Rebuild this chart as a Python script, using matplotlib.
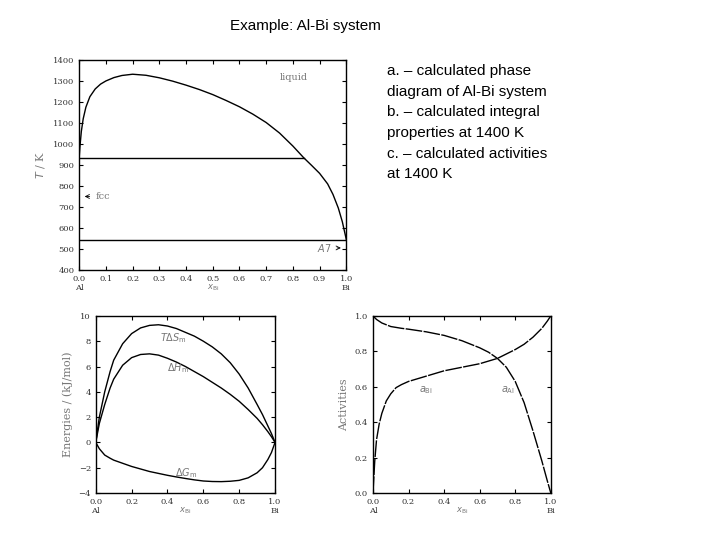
import numpy as np
import matplotlib
matplotlib.use('Agg')
import matplotlib.pyplot as plt

# liquidus
x_liq = [0.0, 0.003, 0.008, 0.015, 0.025, 0.04, 0.06, 0.08, 0.1, 0.13, 0.16, 0.2, 0.25, 0.3, 0.35, 0.4, 0.45,
         0.5, 0.55, 0.6, 0.65, 0.7, 0.75, 0.8, 0.84, 0.87, 0.9, 0.93, 0.95, 0.97, 0.985, 1.0]
T_liq = [935, 990, 1060, 1120, 1175, 1225, 1262, 1285, 1300, 1316, 1326, 1332, 1327, 1315, 1299, 1280, 1259,
         1235, 1207, 1177, 1142, 1102, 1052, 990, 935, 898, 860, 810, 760, 695, 630, 545]
T_eut = 935
T_low = 545

# integral properties at 1400 K
x_e = [0.0, 0.02, 0.05, 0.08, 0.1, 0.15, 0.2, 0.25, 0.3, 0.35, 0.4, 0.45, 0.5, 0.55, 0.6, 0.65, 0.7, 0.75,
       0.8, 0.85, 0.9, 0.93, 0.96, 0.98, 1.0]
TdS = [0.0, 2.0, 4.0, 5.6, 6.5, 7.8, 8.6, 9.05, 9.25, 9.3, 9.2, 9.0, 8.7, 8.4, 8.0, 7.55, 7.0, 6.3,
       5.4, 4.3, 3.0, 2.2, 1.3, 0.7, 0.0]
dH = [0.0, 1.5, 3.0, 4.3, 5.0, 6.1, 6.7, 6.95, 7.0, 6.9, 6.65, 6.35, 6.0, 5.6, 5.2, 4.75, 4.3, 3.8,
      3.25, 2.6, 1.9, 1.4, 0.85, 0.45, 0.0]
dG = [0.0, -0.5, -1.0, -1.25, -1.4, -1.65, -1.9, -2.1, -2.3, -2.45, -2.6, -2.73, -2.85, -2.96, -3.05, -3.09,
      -3.1, -3.07, -3.0, -2.8, -2.4, -2.0, -1.35, -0.8, 0.0]

# activities
x_a = [0.0, 0.01, 0.02, 0.035, 0.05, 0.075, 0.1, 0.13, 0.16, 0.2, 0.3, 0.4, 0.5, 0.6, 0.65, 0.7, 0.75,
       0.8, 0.85, 0.9, 0.95, 0.98, 1.0]
a_Bi = [0.0, 0.18, 0.3, 0.39, 0.45, 0.52, 0.56, 0.595, 0.612, 0.63, 0.66, 0.69, 0.71, 0.73, 0.745, 0.76, 0.785,
        0.81, 0.84, 0.88, 0.93, 0.97, 1.0]
a_Al = [1.0, 0.99, 0.98, 0.97, 0.96, 0.95, 0.94, 0.935, 0.93, 0.925, 0.91, 0.89, 0.86, 0.82, 0.795, 0.76, 0.71,
        0.63, 0.51, 0.35, 0.18, 0.07, 0.0]

gray = '#777777'
plt.rcParams['font.family'] = 'DejaVu Serif'
plt.rcParams['font.size'] = 6


def style(ax):
    ax.tick_params(direction='in', top=True, right=True, labelcolor='#333333', length=3)
    for s in ax.spines.values():
        s.set_linewidth(1.0)


fig = plt.figure(figsize=(7.2, 5.4), dpi=100)

ax1 = fig.add_axes([0.110, 0.5, 0.371, 0.389])
ax1.plot(x_liq, T_liq, color='black', lw=1)
ax1.plot([0, 0.84], [T_eut, T_eut], color='black', lw=1)
ax1.plot([0, 1], [T_low, T_low], color='black', lw=1)
ax1.set_xlim(0, 1)
ax1.set_ylim(400, 1400)
ax1.set_xticks(np.arange(0, 1.01, 0.1))
ax1.set_xticklabels(['0.0\nAl'] + ['%.1f' % v for v in np.arange(0.1, 0.95, 0.1)] + ['1.0\nBi'])
ax1.set_yticks(np.arange(400, 1401, 100))
ax1.set_ylabel('$T$ / K', color=gray, fontsize=8)
ax1.set_xlabel('$x_{\\rm Bi}$', color=gray, labelpad=-7)
ax1.text(0.75, 1305, 'liquid', color=gray, fontsize=7)
ax1.annotate('fcc', xy=(0.01, 750), xytext=(0.06, 750), va='center', color=gray, fontsize=7,
             arrowprops=dict(arrowstyle='->', color='black', lw=0.6))
ax1.annotate('$A7$', xy=(0.99, 505), xytext=(0.89, 505), va='center', color=gray, fontsize=7,
             arrowprops=dict(arrowstyle='->', color='black', lw=0.6))
style(ax1)

ax2 = fig.add_axes([0.133, 0.087, 0.249, 0.328])
ax2.plot(x_e, TdS, color='black', lw=1)
ax2.plot(x_e, dH, color='black', lw=1)
ax2.plot(x_e, dG, color='black', lw=1)
ax2.set_xlim(0, 1)
ax2.set_ylim(-4, 10)
ax2.set_xticks(np.arange(0, 1.01, 0.2))
ax2.set_xticklabels(['0.0\nAl', '0.2', '0.4', '0.6', '0.8', '1.0\nBi'])
ax2.set_yticks(np.arange(-4, 11, 2))
ax2.set_ylabel('Energies / (kJ/mol)', color=gray, fontsize=8)
ax2.set_xlabel('$x_{\\rm Bi}$', color=gray, labelpad=-7)
ax2.text(0.36, 8.0, '$T\\Delta S_{\\rm m}$', color=gray, fontsize=7)
ax2.text(0.40, 5.6, '$\\Delta H_{\\rm m}$', color=gray, fontsize=7)
ax2.text(0.44, -2.7, '$\\Delta G_{\\rm m}$', color=gray, fontsize=7)
style(ax2)

ax3 = fig.add_axes([0.518, 0.087, 0.247, 0.328])
ax3.plot(x_a, a_Bi, color='black', lw=1, dashes=(12, 1))
ax3.plot(x_a, a_Al, color='black', lw=1, dashes=(12, 1))
ax3.set_xlim(0, 1)
ax3.set_ylim(0, 1)
ax3.set_xticks(np.arange(0, 1.01, 0.2))
ax3.set_xticklabels(['0.0\nAl', '0.2', '0.4', '0.6', '0.8', '1.0\nBi'])
ax3.set_yticks(np.arange(0, 1.01, 0.2))
ax3.set_ylabel('Activities', color=gray, fontsize=8)
ax3.set_xlabel('$x_{\\rm Bi}$', color=gray, labelpad=-7)
ax3.text(0.26, 0.57, '$a_{\\rm Bi}$', color=gray, fontsize=7)
ax3.text(0.72, 0.57, '$a_{\\rm Al}$', color=gray, fontsize=7)
style(ax3)

fig.text(0.32, 0.945, 'Example: Al-Bi system', family='Liberation Sans', fontsize=11)
fig.text(0.538, 0.67, 'a. – calculated phase\ndiagram of Al-Bi system\nb. – calculated integral\nproperties at 1400 K\nc. – calculated activities\nat 1400 K',
         family='Liberation Sans', fontsize=11, linespacing=1.6)

fig.savefig('out.png', dpi=100)
